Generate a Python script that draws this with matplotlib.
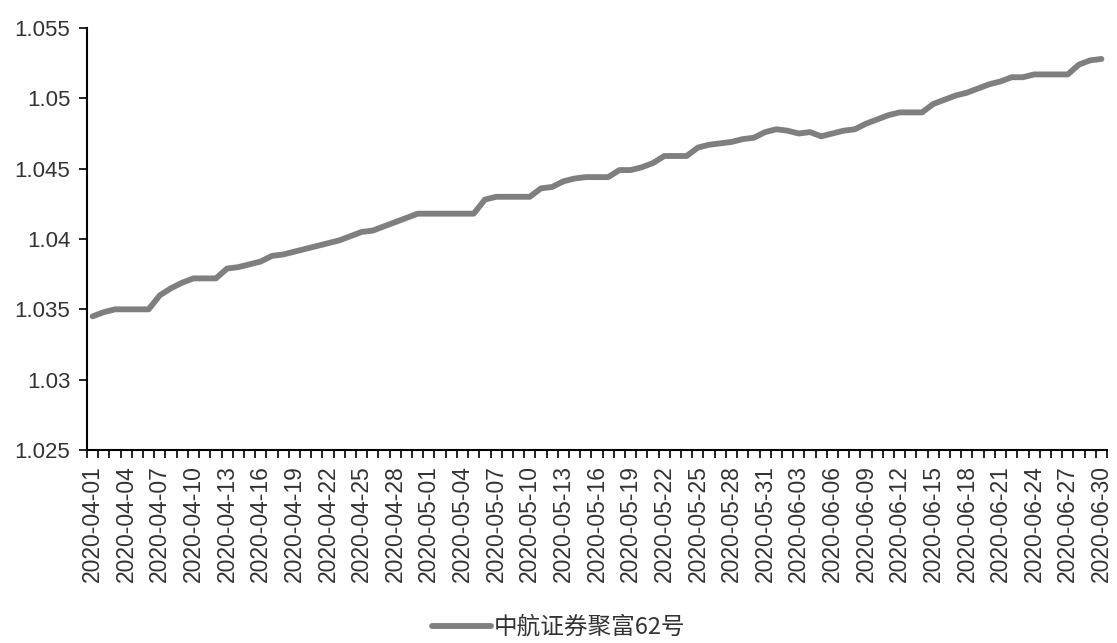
import numpy as np
import pandas as pd
import matplotlib
matplotlib.use('Agg')
from matplotlib import pyplot as plt

# Veriler: 2020-04-01 .. 2020-06-30 günlük net değer
dates = pd.date_range('2020-04-01', '2020-06-30', freq='D').strftime('%Y-%m-%d').tolist()
nav = [
    1.0345, 1.0348, 1.0350, 1.0350, 1.0350, 1.0350, 1.0360, 1.0365, 1.0369, 1.0372,
    1.0372, 1.0372, 1.0379, 1.0380, 1.0382, 1.0384, 1.0388, 1.0389, 1.0391, 1.0393,
    1.0395, 1.0397, 1.0399, 1.0402, 1.0405, 1.0406, 1.0409, 1.0412, 1.0415, 1.0418,
    1.0418, 1.0418, 1.0418, 1.0418, 1.0418, 1.0428, 1.0430, 1.0430, 1.0430, 1.0430,
    1.0436, 1.0437, 1.0441, 1.0443, 1.0444, 1.0444, 1.0444, 1.0449, 1.0449, 1.0451,
    1.0454, 1.0459, 1.0459, 1.0459, 1.0465, 1.0467, 1.0468, 1.0469, 1.0471, 1.0472,
    1.0476, 1.0478, 1.0477, 1.0475, 1.0476, 1.0473, 1.0475, 1.0477, 1.0478, 1.0482,
    1.0485, 1.0488, 1.0490, 1.0490, 1.0490, 1.0496, 1.0499, 1.0502, 1.0504, 1.0507,
    1.0510, 1.0512, 1.0515, 1.0515, 1.0517, 1.0517, 1.0517, 1.0517, 1.0524, 1.0527,
    1.0528,
]
series_name = '中航证券聚富62号'
y_ticks = [1.025, 1.03, 1.035, 1.04, 1.045, 1.05, 1.055]
y_labels = ['1.025', '1.03', '1.035', '1.04', '1.045', '1.05', '1.055']

plt.rcParams['font.family'] = ['Liberation Sans', 'Noto Sans CJK SC', 'DejaVu Sans']

fig = plt.figure(figsize=(11.17, 6.43), dpi=100)
ax = fig.add_axes([87 / 1117, 193 / 643, 1020 / 1117, 422 / 643])

x = np.arange(len(dates))
ax.plot(x, nav, color='#7f7f7f', linewidth=4.2, solid_capstyle='round', label=series_name)

ax.set_xlim(-0.5, len(dates) - 0.5)
ax.set_ylim(1.025, 1.055)
ax.set_yticks(y_ticks)
ax.set_yticklabels(y_labels)

# etiketler her 3 günde bir, çentikler kategoriler arasında
ax.set_xticks(x[::3])
ax.set_xticklabels(dates[::3], rotation=90)
ax.set_xticks(np.arange(len(dates) + 1) - 0.5, minor=True)
ax.tick_params(axis='x', which='major', length=0, pad=11, labelsize=16.5, colors='#333333')
ax.tick_params(axis='x', which='minor', length=6, width=1.2, color='black')
ax.tick_params(axis='y', length=6, width=1.2, pad=6, labelsize=16, labelcolor='#333333')

for s in ['top', 'right']:
    ax.spines[s].set_visible(False)
for s in ['left', 'bottom']:
    ax.spines[s].set_linewidth(1.5)
    ax.spines[s].set_color('black')

fig.legend(loc='center', bbox_to_anchor=(0.5, 0.024), frameon=False,
           prop={'family': ['Noto Sans CJK SC'], 'size': 17}, handlelength=2.5,
           handletextpad=0.1, labelcolor='#333333')

fig.savefig('out.png', dpi=100)
